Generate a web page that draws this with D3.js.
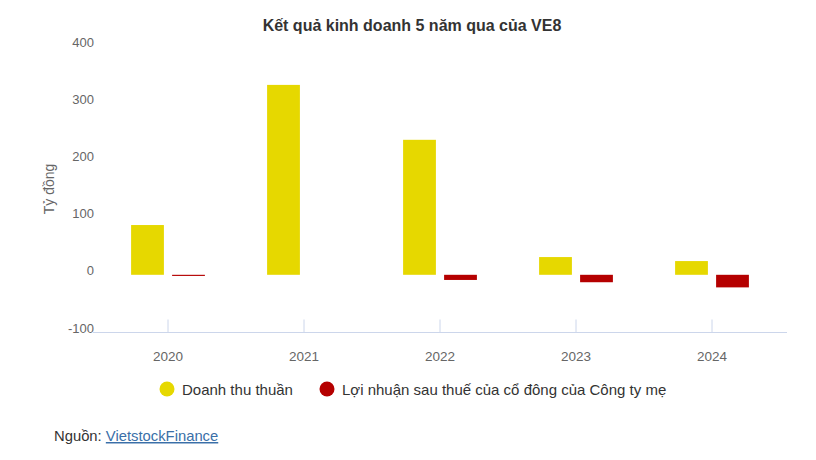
<!DOCTYPE html>
<html>
<head>
<meta charset="utf-8">
<script src="https://cdn.jsdelivr.net/npm/d3@7"></script>
<style>
  body { margin: 0; background: #fff; }
  svg { font-family: "Liberation Sans", Arial, sans-serif; }
</style>
</head>
<body>
<svg id="chart" width="816" height="460"></svg>
<script>
const years = ["2020", "2021", "2022", "2023", "2024"];
const seriesNames = ["Doanh thu thuần", "Lợi nhuận sau thuế của cổ đông của Công ty mẹ"];
const revenue = [87, 332, 236, 31, 24];
const profit = [-2, 0, -9, -13, -22];
const yTicks = [-100, 0, 100, 200, 300, 400];
const colors = ["#e6d800", "#b50000"];

const svg = d3.select("#chart");

const x = d3.scaleBand().domain(years).range([100, 780]);
const xInner = d3
  .scaleBand()
  .domain([0, 1])
  .range([27, 109])
  .paddingInner(0.2)
  .paddingOuter(0.1);

const y = d3.scaleLinear().domain([-100, 400]).range([332, 46]);

// Title
svg
  .append("text")
  .attr("x", 412)
  .attr("y", 31)
  .attr("text-anchor", "middle")
  .attr("font-size", "16px")
  .attr("font-weight", "bold")
  .attr("fill", "#333")
  .text("Kết quả kinh doanh 5 năm qua của VE8");

// Y axis labels (no line)
const yAxis = svg
  .append("g")
  .attr("transform", "translate(94,-4)")
  .call(
    d3
      .axisLeft(y)
      .tickValues(yTicks)
      .tickFormat((d) => String(d))
      .tickSize(0)
      .tickPadding(0)
  );
yAxis.select(".domain").remove();
yAxis.selectAll("text").attr("font-size", "13px").attr("fill", "#666")
  .style("font-family", "inherit");

svg
  .append("text")
  .attr("transform", "translate(54,189) rotate(-90)")
  .attr("text-anchor", "middle")
  .attr("font-size", "14px")
  .attr("fill", "#666")
  .text("Tỷ đồng");

// X axis
svg
  .append("line")
  .attr("x1", 93)
  .attr("x2", 787)
  .attr("y1", 332.5)
  .attr("y2", 332.5)
  .attr("stroke", "#ccd6eb");

const xAxis = svg
  .append("g")
  .attr("transform", "translate(0,332.5)")
  .call(d3.axisBottom(x).tickSize(0).tickPadding(19));
xAxis.select(".domain").remove();
xAxis.selectAll("text").attr("font-size", "13.5px").attr("fill", "#666")
  .style("font-family", "inherit");
xAxis
  .selectAll(".tick")
  .append("line")
  .attr("y1", 0)
  .attr("y2", -13)
  .attr("stroke", "#ccd6eb");

// Bars
const rows = years.map((yr, i) => ({ year: yr, values: [revenue[i], profit[i]] }));

const groups = svg
  .selectAll("g.bar-group")
  .data(rows)
  .enter()
  .append("g")
  .attr("class", "bar-group")
  .attr("transform", (d) => `translate(${x(d.year)},0)`);

groups
  .selectAll("rect")
  .data((d) => d.values.map((v, k) => ({ v, k })))
  .enter()
  .append("rect")
  .attr("x", (d) => xInner(d.k))
  .attr("width", xInner.bandwidth())
  .attr("y", (d) => y(Math.max(0, d.v)))
  .attr("height", (d) => Math.abs(y(d.v) - y(0)))
  .attr("fill", (d) => colors[d.k]);

// Legend
const legendX = [167, 327];
const legend = svg
  .selectAll("g.legend")
  .data(seriesNames)
  .enter()
  .append("g")
  .attr("class", "legend")
  .attr("transform", (d, i) => `translate(${legendX[i]},389)`);

legend
  .append("circle")
  .attr("r", 7.5)
  .attr("fill", (d, i) => colors[i]);

legend
  .append("text")
  .attr("x", 15)
  .attr("y", 5.5)
  .attr("font-size", "15px")
  .attr("fill", "#333")
  .text((d) => d);

// Source
const src = svg
  .append("text")
  .attr("x", 54)
  .attr("y", 441)
  .attr("font-size", "14.8px")
  .attr("fill", "#333");
src.append("tspan").text("Nguồn: ");
src
  .append("tspan")
  .attr("fill", "#3a6fa8")
  .attr("text-decoration", "underline")
  .text("VietstockFinance");
</script>
</body>
</html>
